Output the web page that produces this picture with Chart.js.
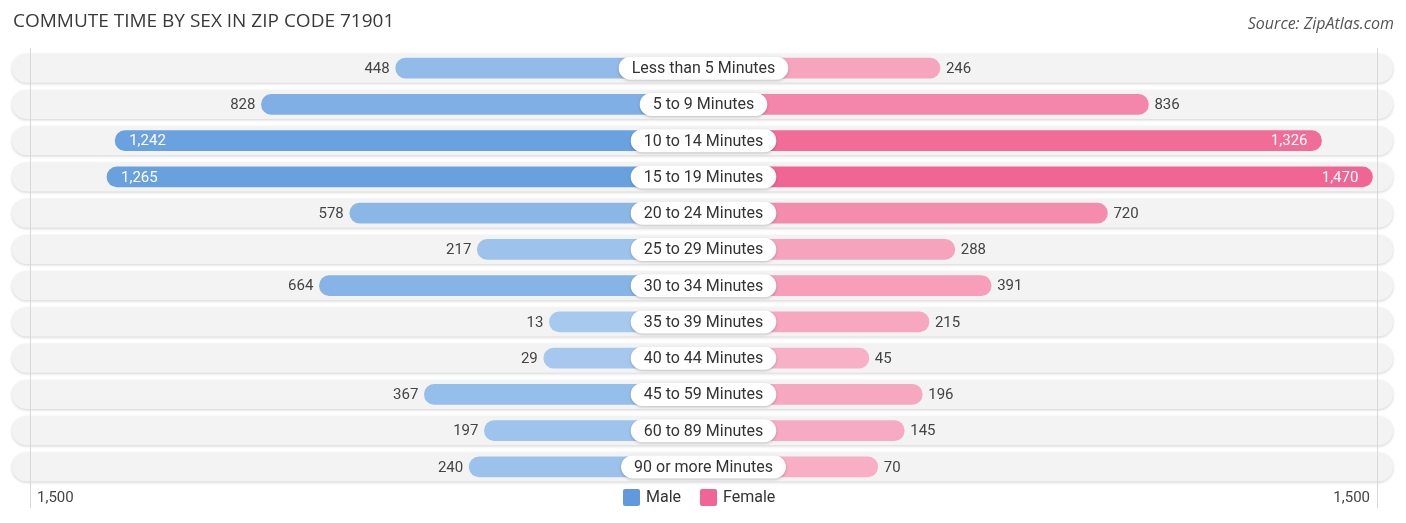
<!DOCTYPE html>
<html>
<head>
<meta charset="utf-8">
<script src="https://cdn.jsdelivr.net/npm/chart.js@4"></script>
<style>
  html, body { margin: 0; padding: 0; background: #fff; }
  #wrap { width: 1406px; height: 523px; position: relative; }
</style>
</head>
<body>
<div id="wrap"><canvas id="chart" width="1406" height="523"></canvas></div>
<script>
const categories = ['Less than 5 Minutes', '5 to 9 Minutes', '10 to 14 Minutes', '15 to 19 Minutes',
  '20 to 24 Minutes', '25 to 29 Minutes', '30 to 34 Minutes', '35 to 39 Minutes',
  '40 to 44 Minutes', '45 to 59 Minutes', '60 to 89 Minutes', '90 or more Minutes'];
const male = [448, 828, 1242, 1265, 578, 217, 664, 13, 29, 367, 197, 240];
const female = [246, 836, 1326, 1470, 720, 288, 391, 215, 45, 196, 145, 70];
const axisLabel = '1,500';

// bars start under the centre label, so every bar gets a fixed extra length
const PAD = 423;
const RANGE = 1906;
const maxVal = Math.max(...male, ...female);

function mix(a, b, t) {
  const r = Math.round(a[0] + (b[0] - a[0]) * t);
  const g = Math.round(a[1] + (b[1] - a[1]) * t);
  const bl = Math.round(a[2] + (b[2] - a[2]) * t);
  return `rgb(${r},${g},${bl})`;
}
const maleLight = [168, 201, 238], maleStrong = [95, 155, 220];
const femLight = [248, 178, 200], femStrong = [240, 101, 147];

function pill(ctx, x, y, w, h, r) {
  ctx.beginPath();
  ctx.roundRect(x, y, w, h, r);
  ctx.closePath();
}

const decor = {
  id: 'decor',
  beforeDatasetsDraw(chart) {
    const ctx = chart.ctx;
    const ys = chart.scales.y;
    const area = chart.chartArea;
    ctx.save();
    categories.forEach((c, i) => {
      const y = ys.getPixelForValue(i);
      ctx.save();
      ctx.shadowColor = 'rgba(0,0,0,0.18)';
      ctx.shadowBlur = 3;
      ctx.shadowOffsetY = 1;
      pill(ctx, 12, y - 14.5, 1381, 29, 14.5);
      ctx.fillStyle = '#f3f3f3';
      ctx.fill();
      ctx.restore();
    });
    ctx.strokeStyle = '#d8d8d8';
    ctx.lineWidth = 1;
    [area.left, area.right].forEach(x => {
      ctx.beginPath();
      ctx.moveTo(Math.round(x) + 0.5, 48);
      ctx.lineTo(Math.round(x) + 0.5, 508);
      ctx.stroke();
    });
    ctx.restore();
  },
  afterDatasetsDraw(chart) {
    const ctx = chart.ctx;
    const xs = chart.scales.x;
    const ys = chart.scales.y;
    const cx = xs.getPixelForValue(0);
    ctx.save();
    ctx.textBaseline = 'middle';
    categories.forEach((c, i) => {
      const y = ys.getPixelForValue(i);
      // centre label
      ctx.font = '16px Roboto';
      const w = ctx.measureText(c).width + 26;
      ctx.save();
      ctx.shadowColor = 'rgba(0,0,0,0.22)';
      ctx.shadowBlur = 3;
      ctx.shadowOffsetY = 1;
      pill(ctx, cx - w / 2, y - 11.5, w, 23, 11.5);
      ctx.fillStyle = '#fff';
      ctx.fill();
      ctx.restore();
      ctx.fillStyle = '#333';
      ctx.textAlign = 'center';
      ctx.fillText(c, cx, y + 1);

      // value labels
      ctx.font = '15px Roboto';
      const m = male[i], f = female[i];
      const mx = xs.getPixelForValue(-(m + PAD));
      if (m > 1000) {
        ctx.fillStyle = '#fff';
        ctx.textAlign = 'left';
        ctx.fillText(m.toLocaleString('en-US'), mx + 14, y + 1);
      } else {
        ctx.fillStyle = '#444';
        ctx.textAlign = 'right';
        ctx.fillText(m.toLocaleString('en-US'), mx - 6, y + 1);
      }
      const fx = xs.getPixelForValue(f + PAD);
      if (f > 1000) {
        ctx.fillStyle = '#fff';
        ctx.textAlign = 'right';
        ctx.fillText(f.toLocaleString('en-US'), fx - 14, y + 1);
      } else {
        ctx.fillStyle = '#444';
        ctx.textAlign = 'left';
        ctx.fillText(f.toLocaleString('en-US'), fx + 6, y + 1);
      }
    });
    ctx.restore();
  },
  afterDraw(chart) {
    const ctx = chart.ctx;
    const area = chart.chartArea;
    ctx.save();
    ctx.textBaseline = 'middle';
    ctx.font = '19px "Open Sans"';
    ctx.fillStyle = '#3a3a3a';
    ctx.textAlign = 'left';
    ctx.fillText('COMMUTE TIME BY SEX IN ZIP CODE 71901', 13, 22);
    ctx.font = 'italic 16px "Open Sans"';
    ctx.fillStyle = '#555';
    ctx.textAlign = 'right';
    ctx.fillText('Source: ZipAtlas.com', 1394, 24);

    ctx.font = '15px Roboto';
    ctx.fillStyle = '#444';
    ctx.textAlign = 'left';
    ctx.fillText(axisLabel, area.left + 7, 498);
    ctx.textAlign = 'right';
    ctx.fillText(axisLabel, area.right - 7, 498);

    // legend
    const items = [['Male', 'rgb(95,155,220)', 623], ['Female', 'rgb(240,101,147)', 700]];
    ctx.font = '16px Roboto';
    ctx.textAlign = 'left';
    items.forEach(([name, col, x]) => {
      ctx.fillStyle = col;
      pill(ctx, x, 489, 17, 17, 2);
      ctx.fill();
      ctx.fillStyle = '#333';
      ctx.fillText(name, x + 23, 498);
    });
    ctx.restore();
  }
};

new Chart(document.getElementById('chart'), {
  type: 'bar',
  data: {
    labels: categories,
    datasets: [{
      label: 'Male',
      data: male.map(v => [-(v + PAD), 0]),
      backgroundColor: male.map(v => mix(maleLight, maleStrong, v / maxVal)),
      grouped: false,
      barThickness: 20,
      borderRadius: 10,
      borderSkipped: false
    }, {
      label: 'Female',
      data: female.map(v => [0, v + PAD]),
      backgroundColor: female.map(v => mix(femLight, femStrong, v / maxVal)),
      grouped: false,
      barThickness: 20,
      borderRadius: 10,
      borderSkipped: false
    }]
  },
  options: {
    indexAxis: 'y',
    responsive: false,
    animation: false,
    devicePixelRatio: 1,
    layout: { padding: { left: 30, right: 29, top: 50, bottom: 38 } },
    scales: {
      x: { min: -RANGE, max: RANGE, display: false },
      y: { display: false }
    },
    plugins: {
      legend: { display: false },
      tooltip: { enabled: false }
    }
  },
  plugins: [decor]
});
</script>
</body>
</html>
